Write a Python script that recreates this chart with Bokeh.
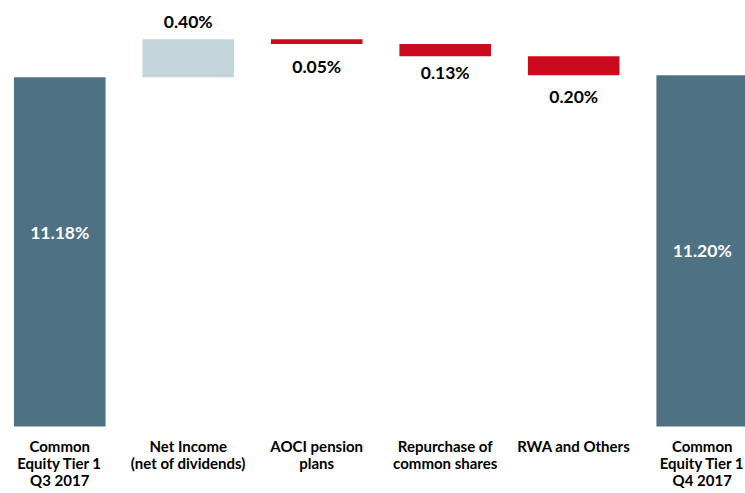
from bokeh.plotting import figure
from bokeh.models import ColumnDataSource, Range1d
from bokeh.core.properties import value
from bokeh.embed import file_html
from bokeh.resources import INLINE

# ---- data ----
categories = [
    "Common\nEquity Tier 1\nQ3 2017",
    "Net Income\n(net of dividends)",
    "AOCI pension\nplans",
    "Repurchase of\ncommon shares",
    "RWA and Others",
    "Common\nEquity Tier 1\nQ4 2017",
]
start_value = 11.18
changes = [0.40, -0.05, -0.13, -0.20]
end_value = 11.20
value_labels = ["11.18%", "0.40%", "0.05%", "0.13%", "0.20%", "11.20%"]
axis_base = 7.5  # bars start from this value (truncated axis)

# ---- styles ----
C_TOTAL = "#4E7284"
C_UP = "#C3D4DB"
C_DOWN = "#CC0A1E"
FONT = "Lato"
W, H = 745, 493
Y0, Y1 = 6.795, 11.987
SCALE = H / (Y1 - Y0)  # px per unit

# ---- build waterfall geometry ----
xs, bottoms, tops, colors = [], [], [], []
xs.append(0); bottoms.append(axis_base); tops.append(start_value); colors.append(C_TOTAL)
run = start_value
for i, c in enumerate(changes):
    new = run + c
    xs.append(i + 1)
    bottoms.append(min(run, new)); tops.append(max(run, new))
    colors.append(C_UP if c > 0 else C_DOWN)
    run = new
xs.append(len(changes) + 1); bottoms.append(axis_base); tops.append(end_value); colors.append(C_TOTAL)

src = ColumnDataSource(dict(x=xs, bottom=bottoms, top=tops, color=colors))

p = figure(width=W, height=H, output_backend="svg", toolbar_location=None,
           x_range=Range1d(-0.461, 5.337), y_range=Range1d(Y0, Y1),
           min_border=0, min_border_left=0, min_border_right=0,
           min_border_top=0, min_border_bottom=0)
p.outline_line_color = None
p.axis.visible = False
p.grid.visible = False
p.background_fill_color = "white"
p.border_fill_color = "white"

p.vbar(x="x", bottom="bottom", top="top", width=0.713, fill_color="color",
       line_color=None, source=src)

# value labels: pixel offsets relative to bar edges
lab_x, lab_y, lab_col = [], [], []
lab_x.append(0); lab_y.append(tops[0] - 155 / SCALE); lab_col.append("white")
lab_x.append(1); lab_y.append(tops[1] + 18 / SCALE); lab_col.append("black")
for i, off in zip([2, 3, 4], [23, 16, 21]):
    lab_x.append(i); lab_y.append(bottoms[i] - off / SCALE); lab_col.append("black")
lab_x.append(5); lab_y.append((tops[5] + bottoms[5]) / 2); lab_col.append("white")

p.text(x=lab_x, y=lab_y, text=value_labels, text_color=lab_col,
       text_font=value(FONT), text_font_style="bold", text_font_size="17.5px",
       text_align="center", text_baseline="middle")

# category labels below the bars
cx, cy, ct = [], [], []
line_offsets = [19, 36.5, 53.5]
for i, cat in enumerate(categories):
    for j, line in enumerate(cat.split("\n")):
        cx.append(i); cy.append(axis_base - line_offsets[j] / SCALE); ct.append(line)
p.text(x=cx, y=cy, text=ct, text_color="black",
       text_font=value(FONT), text_font_style="bold", text_font_size="15px",
       text_align="center", text_baseline="middle")

open("out.html", "w").write(file_html(p, INLINE))
